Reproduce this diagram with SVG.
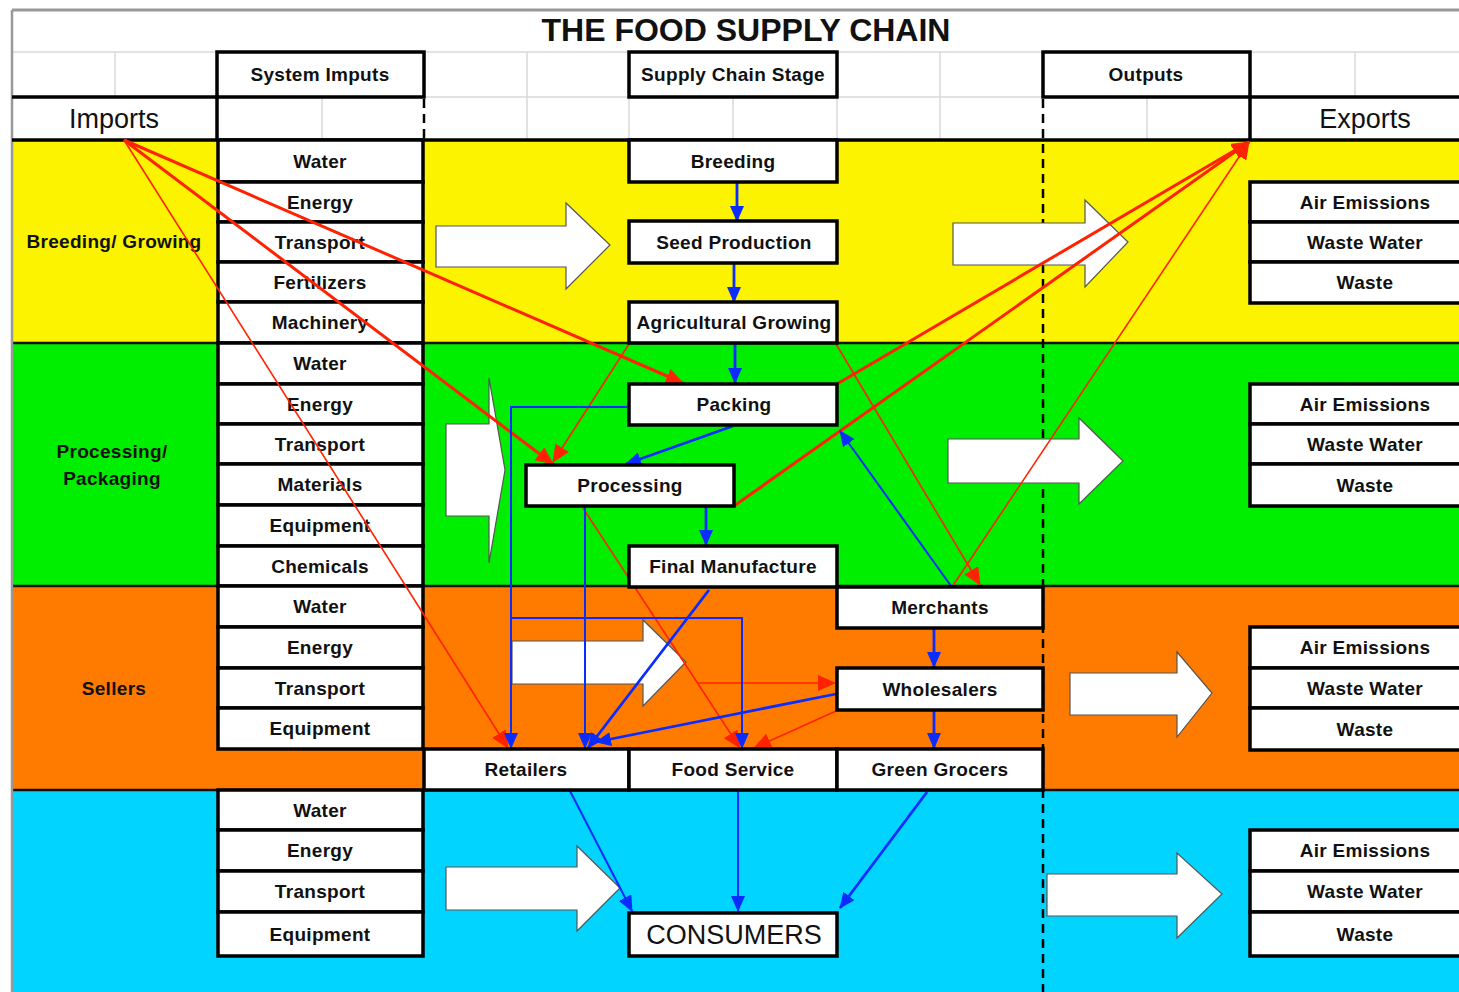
<svg xmlns="http://www.w3.org/2000/svg" width="1459" height="992" viewBox="0 0 1459 992">
<defs>
<style>
.box{fill:#fff;stroke:#000;stroke-width:3.5}
.t{font-family:"Liberation Sans",Arial,sans-serif;font-weight:bold;font-size:19px;text-anchor:middle;letter-spacing:0.3px;fill:#111}
.big{font-family:"Liberation Sans",Arial,sans-serif;font-size:27px;text-anchor:middle;fill:#111}
.grid{stroke:#d9d9d9;stroke-width:1.5;fill:none}
.blk{stroke:#000;stroke-width:3.5;fill:none}
.band{stroke:#111;stroke-width:2.5}
.dash{stroke:#000;stroke-width:2.5;stroke-dasharray:9 6;fill:none}
.blk-arrow{fill:#fff;stroke:#555;stroke-width:1.2}
.bl{stroke:#0a2cff;stroke-width:2.8;fill:none}
.blt{stroke:#0a2cff;stroke-width:2;fill:none}
.rd{stroke:#ff2200;stroke-width:3;fill:none}
.rdt{stroke:#ff2200;stroke-width:1.6;fill:none}
</style>
<marker id="ab" viewBox="0 0 16 14" refX="15" refY="7" markerWidth="16" markerHeight="14" markerUnits="userSpaceOnUse" orient="auto"><path d="M0,0 L16,7 L0,14 z" fill="#0a2cff"/></marker>
<marker id="ar" viewBox="0 0 18 16" refX="17" refY="8" markerWidth="18" markerHeight="16" markerUnits="userSpaceOnUse" orient="auto"><path d="M0,0 L18,8 L0,16 z" fill="#ff2200"/></marker>
</defs>

<rect x="0" y="0" width="1459" height="992" fill="#fff"/>

<!-- bands -->
<g id="bands">
<rect x="12" y="140" width="1447" height="203" fill="#fbf300"/>
<rect x="12" y="343" width="1447" height="243" fill="#00ee00"/>
<rect x="12" y="586" width="1447" height="204" fill="#ff7b00"/>
<rect x="12" y="790" width="1447" height="202" fill="#00d4ff"/>
<line class="band" x1="12" y1="343" x2="1459" y2="343"/>
<line class="band" x1="12" y1="586" x2="1459" y2="586"/>
<line class="band" x1="12" y1="790" x2="1459" y2="790"/>
</g>

<!-- header grid -->
<g id="grid">
<line class="grid" x1="12" y1="52" x2="1459" y2="52"/>
<line class="grid" x1="12" y1="97" x2="1459" y2="97"/>
<line class="grid" x1="115" y1="52" x2="115" y2="97"/>
<line class="grid" x1="527" y1="52" x2="527" y2="97"/>
<line class="grid" x1="940" y1="52" x2="940" y2="97"/>
<line class="grid" x1="1355" y1="52" x2="1355" y2="97"/>
<line class="grid" x1="322" y1="97" x2="322" y2="140"/>
<line class="grid" x1="527" y1="97" x2="527" y2="140"/>
<line class="grid" x1="629" y1="97" x2="629" y2="140"/>
<line class="grid" x1="733" y1="97" x2="733" y2="140"/>
<line class="grid" x1="837" y1="97" x2="837" y2="140"/>
<line class="grid" x1="940" y1="97" x2="940" y2="140"/>
<line class="grid" x1="1147" y1="97" x2="1147" y2="140"/>
<line x1="12" y1="10" x2="1459" y2="10" stroke="#999" stroke-width="3"/>
<line x1="12" y1="10" x2="12" y2="992" stroke="#999" stroke-width="2.5"/>
<line class="blk" x1="12" y1="97" x2="217" y2="97"/>
<line class="blk" x1="1250" y1="97" x2="1459" y2="97"/>
<line class="blk" x1="217" y1="97" x2="217" y2="140"/>
<line class="blk" x1="1250" y1="97" x2="1250" y2="140"/>
<line class="blk" x1="12" y1="140" x2="1459" y2="140"/>
<line class="dash" x1="424" y1="99" x2="424" y2="140"/>
<line class="dash" x1="1043" y1="99" x2="1043" y2="992"/>
</g>

<g id="title"><text x="746" y="41" font-family="Liberation Sans, Arial, sans-serif" font-weight="bold" font-size="32" text-anchor="middle" fill="#111">THE FOOD SUPPLY CHAIN</text></g>

<g id="hdr-inputs"><rect class="box" x="217" y="52" width="207" height="45"/><text class="t" x="320" y="81">System Imputs</text></g>
<g id="hdr-stage"><rect class="box" x="629" y="52" width="208" height="45"/><text class="t" x="733" y="81">Supply Chain Stage</text></g>
<g id="hdr-outputs"><rect class="box" x="1043" y="52" width="207" height="45"/><text class="t" x="1146" y="81">Outputs</text></g>
<g id="imports"><text class="big" x="114" y="128">Imports</text></g>
<g id="exports"><text class="big" x="1365" y="128">Exports</text></g>

<!-- band labels -->
<g id="lbl-breeding"><text class="t" x="114" y="248">Breeding/ Growing</text></g>
<g id="lbl-processing"><text class="t" x="112" y="458">Processing/</text><text class="t" x="112" y="485">Packaging</text></g>
<g id="lbl-sellers"><text class="t" x="114" y="695">Sellers</text></g>

<!-- block arrows -->
<g id="block-arrows">
<polygon class="blk-arrow" points="436,226 566,226 566,203 610,245 566,289 566,267 436,267"/>
<polygon class="blk-arrow" points="953,223 1085,223 1085,200 1128,242 1085,287 1085,265 953,265"/>
<polygon class="blk-arrow" points="446,424 489,424 489,378 505,470 489,563 489,516 446,516"/>
<polygon class="blk-arrow" points="948,439 1079,439 1079,418 1123,461 1079,504 1079,483 948,483"/>
<polygon class="blk-arrow" points="512,641 643,641 643,620 686,662 643,706 643,684 512,684"/>
<polygon class="blk-arrow" points="1070,673 1177,673 1177,652 1212,693 1177,737 1177,715 1070,715"/>
<polygon class="blk-arrow" points="446,867 577,867 577,846 620,888 577,931 577,910 446,910"/>
<polygon class="blk-arrow" points="1047,874 1177,874 1177,853 1222,894 1177,938 1177,916 1047,916"/>
</g>

<!-- system inputs -->
<g id="in-y-water"><rect class="box" x="218" y="140" width="205" height="42"/><text class="t" x="320" y="168">Water</text></g>
<g id="in-y-energy"><rect class="box" x="218" y="182" width="205" height="40"/><text class="t" x="320" y="209">Energy</text></g>
<g id="in-y-transport"><rect class="box" x="218" y="222" width="205" height="40"/><text class="t" x="320" y="249">Transport</text></g>
<g id="in-y-fert"><rect class="box" x="218" y="262" width="205" height="40"/><text class="t" x="320" y="289">Fertilizers</text></g>
<g id="in-y-mach"><rect class="box" x="218" y="302" width="205" height="41"/><text class="t" x="320" y="329">Machinery</text></g>

<g id="in-g-water"><rect class="box" x="218" y="343" width="205" height="41"/><text class="t" x="320" y="370">Water</text></g>
<g id="in-g-energy"><rect class="box" x="218" y="384" width="205" height="40"/><text class="t" x="320" y="411">Energy</text></g>
<g id="in-g-transport"><rect class="box" x="218" y="424" width="205" height="40"/><text class="t" x="320" y="451">Transport</text></g>
<g id="in-g-mat"><rect class="box" x="218" y="464" width="205" height="41"/><text class="t" x="320" y="491">Materials</text></g>
<g id="in-g-equip"><rect class="box" x="218" y="505" width="205" height="41"/><text class="t" x="320" y="532">Equipment</text></g>
<g id="in-g-chem"><rect class="box" x="218" y="546" width="205" height="40"/><text class="t" x="320" y="573">Chemicals</text></g>

<g id="in-o-water"><rect class="box" x="218" y="586" width="205" height="41"/><text class="t" x="320" y="613">Water</text></g>
<g id="in-o-energy"><rect class="box" x="218" y="627" width="205" height="41"/><text class="t" x="320" y="654">Energy</text></g>
<g id="in-o-transport"><rect class="box" x="218" y="668" width="205" height="40"/><text class="t" x="320" y="695">Transport</text></g>
<g id="in-o-equip"><rect class="box" x="218" y="708" width="205" height="41"/><text class="t" x="320" y="735">Equipment</text></g>

<g id="in-c-water"><rect class="box" x="218" y="790" width="205" height="40"/><text class="t" x="320" y="817">Water</text></g>
<g id="in-c-energy"><rect class="box" x="218" y="830" width="205" height="41"/><text class="t" x="320" y="857">Energy</text></g>
<g id="in-c-transport"><rect class="box" x="218" y="871" width="205" height="41"/><text class="t" x="320" y="898">Transport</text></g>
<g id="in-c-equip"><rect class="box" x="218" y="912" width="205" height="44"/><text class="t" x="320" y="941">Equipment</text></g>

<!-- exports -->
<g id="ex-y-air"><rect class="box" x="1250" y="182" width="220" height="40"/><text class="t" x="1365" y="209">Air Emissions</text></g>
<g id="ex-y-ww"><rect class="box" x="1250" y="222" width="220" height="40"/><text class="t" x="1365" y="249">Waste Water</text></g>
<g id="ex-y-w"><rect class="box" x="1250" y="262" width="220" height="41"/><text class="t" x="1365" y="289">Waste</text></g>
<g id="ex-g-air"><rect class="box" x="1250" y="384" width="220" height="40"/><text class="t" x="1365" y="411">Air Emissions</text></g>
<g id="ex-g-ww"><rect class="box" x="1250" y="424" width="220" height="40"/><text class="t" x="1365" y="451">Waste Water</text></g>
<g id="ex-g-w"><rect class="box" x="1250" y="464" width="220" height="42"/><text class="t" x="1365" y="492">Waste</text></g>
<g id="ex-o-air"><rect class="box" x="1250" y="627" width="220" height="41"/><text class="t" x="1365" y="654">Air Emissions</text></g>
<g id="ex-o-ww"><rect class="box" x="1250" y="668" width="220" height="40"/><text class="t" x="1365" y="695">Waste Water</text></g>
<g id="ex-o-w"><rect class="box" x="1250" y="708" width="220" height="42"/><text class="t" x="1365" y="736">Waste</text></g>
<g id="ex-c-air"><rect class="box" x="1250" y="830" width="220" height="41"/><text class="t" x="1365" y="857">Air Emissions</text></g>
<g id="ex-c-ww"><rect class="box" x="1250" y="871" width="220" height="41"/><text class="t" x="1365" y="898">Waste Water</text></g>
<g id="ex-c-w"><rect class="box" x="1250" y="912" width="220" height="44"/><text class="t" x="1365" y="941">Waste</text></g>

<!-- connectors -->
<g id="connectors">
<path class="rd" d="M124,140 L683,383" marker-end="url(#ar)"/>
<path class="rd" d="M124,140 L553,464" marker-end="url(#ar)"/>
<path class="rdt" d="M124,140 L508,748" marker-end="url(#ar)"/>
<path class="rdt" d="M629,344 L553,462" marker-end="url(#ar)"/>
<path class="rdt" d="M836,344 L980,585" marker-end="url(#ar)"/>
<path class="rd" d="M734,506 L1249,142" marker-end="url(#ar)"/>
<path class="rd" d="M837,384 L1249,142" marker-end="url(#ar)"/>
<path class="rdt" d="M952,587 L1249,142" marker-end="url(#ar)"/>
<path class="rdt" d="M583,508 L740,748" marker-end="url(#ar)"/>
<path class="rdt" d="M697,683 L835,683" marker-end="url(#ar)"/>
<path class="rdt" d="M836,711 L754,748" marker-end="url(#ar)"/>

<path class="bl" d="M737,183 L737,221" marker-end="url(#ab)"/>
<path class="bl" d="M734,264 L734,302" marker-end="url(#ab)"/>
<path class="bl" d="M735,344 L735,383" marker-end="url(#ab)"/>
<path class="bl" d="M733,426 L626,464" marker-end="url(#ab)"/>
<path class="bl" d="M706,507 L706,545" marker-end="url(#ab)"/>
<path class="bl" d="M709,590 L588,748" marker-end="url(#ab)"/>
<path class="blt" d="M627,407 L511,407 L511,748" marker-end="url(#ab)"/>
<path class="blt" d="M585,507 L585,748" marker-end="url(#ab)"/>
<path class="blt" d="M511,618 L742,618 L742,748" marker-end="url(#ab)"/>
<path class="blt" d="M951,586 L840,431" marker-end="url(#ab)"/>
<path class="bl" d="M934,629 L934,667" marker-end="url(#ab)"/>
<path class="bl" d="M934,711 L934,748" marker-end="url(#ab)"/>
<path class="bl" d="M836,694 L596,742" marker-end="url(#ab)"/>
<path class="blt" d="M570,791 L632,911" marker-end="url(#ab)"/>
<path class="blt" d="M738,791 L738,911" marker-end="url(#ab)"/>
<path class="bl" d="M927,792 L840,908" marker-end="url(#ab)"/>
</g>

<!-- stage nodes -->
<g id="breeding"><rect class="box" x="629" y="140" width="208" height="42"/><text class="t" x="733" y="168">Breeding</text></g>
<g id="seed"><rect class="box" x="629" y="221" width="208" height="42"/><text class="t" x="734" y="249">Seed Production</text></g>
<g id="agri"><rect class="box" x="629" y="302" width="208" height="41"/><text class="t" x="734" y="329">Agricultural Growing</text></g>
<g id="packing"><rect class="box" x="629" y="384" width="208" height="41"/><text class="t" x="734" y="411">Packing</text></g>
<g id="processing"><rect class="box" x="526" y="465" width="208" height="41"/><text class="t" x="630" y="492">Processing</text></g>
<g id="finalman"><rect class="box" x="629" y="546" width="208" height="41"/><text class="t" x="733" y="573">Final Manufacture</text></g>
<g id="merchants"><rect class="box" x="837" y="587" width="206" height="41"/><text class="t" x="940" y="614">Merchants</text></g>
<g id="wholesalers"><rect class="box" x="837" y="668" width="206" height="42"/><text class="t" x="940" y="696">Wholesalers</text></g>
<g id="retailers"><rect class="box" x="424" y="749" width="205" height="41"/><text class="t" x="526" y="776">Retailers</text></g>
<g id="foodservice"><rect class="box" x="629" y="749" width="208" height="41"/><text class="t" x="733" y="776">Food Service</text></g>
<g id="greengrocers"><rect class="box" x="837" y="749" width="206" height="41"/><text class="t" x="940" y="776">Green Grocers</text></g>
<g id="consumers"><rect class="box" x="629" y="913" width="208" height="43"/><text class="big" x="734" y="944">CONSUMERS</text></g>
</svg>
